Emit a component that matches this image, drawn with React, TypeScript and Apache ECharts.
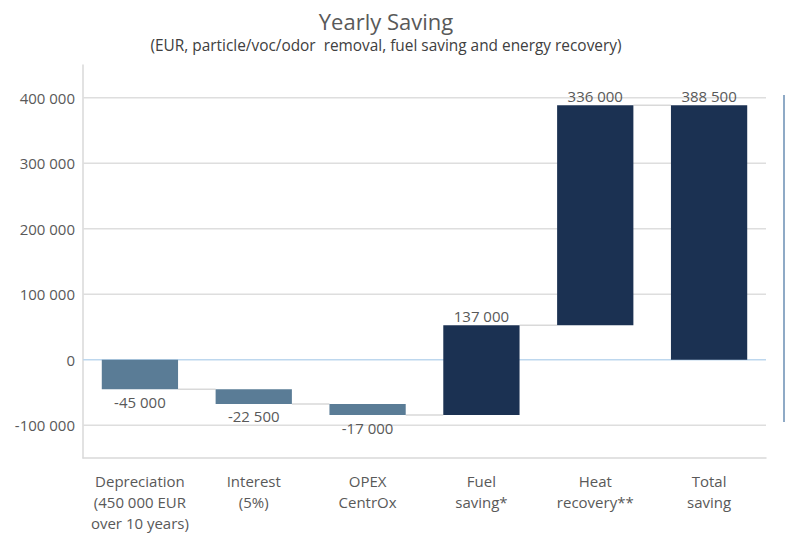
import React, { useEffect, useRef } from 'react';
import * as echarts from 'echarts';

const categories = [
  'Depreciation\n(450 000 EUR\nover 10 years)',
  'Interest\n(5%)',
  'OPEX\nCentrOx',
  'Fuel\nsaving*',
  'Heat\nrecovery**',
  'Total\nsaving',
];
const deltas = [-45000, -22500, -17000, 137000, 336000];
const totalValue = 388500;
const yTicks = [-100000, 0, 100000, 200000, 300000, 400000];
const yMin = -150000;
const yMax = 450000;

const NEG = '#5A7C96';
const POS = '#1B3152';
const FONT = '"Open Sans", sans-serif';
const BAR_FRAC = 0.67;

const fmt = (v: number) => {
  const s = Math.abs(v).toString().replace(/\B(?=(\d{3})+(?!\d))/g, ' ');
  return (v < 0 ? '-' : '') + s;
};

export default function App() {
  const ref = useRef<HTMLDivElement>(null);
  useEffect(() => {
    document.body.style.margin = '0';
    if (!ref.current) return;
    const chart = echarts.init(ref.current, null, { renderer: 'svg' });

    const barData: number[][] = [];
    let running = 0;
    deltas.forEach((d, i) => {
      barData.push([i, running, running + d, d]);
      running += d;
    });
    barData.push([deltas.length, 0, totalValue, totalValue]);
    const connData = barData.slice(0, deltas.length).map((b) => [b[0], b[2]]);
    const gridData = yTicks.map((v) => [0, v]);

    chart.setOption({
      animation: false,
      title: {
        text: 'Yearly Saving',
        subtext: '(EUR, particle/voc/odor  removal, fuel saving and energy recovery)',
        left: 381,
        textAlign: 'center',
        top: 5,
        itemGap: 6,
        textStyle: { fontFamily: FONT, fontSize: 22, fontWeight: 'normal', color: '#595959' },
        subtextStyle: { fontFamily: FONT, fontSize: 15.4, color: '#404040' },
      },
      grid: { left: 83, right: 23, top: 65, bottom: 72, containLabel: false },
      xAxis: {
        type: 'category',
        data: categories,
        axisLine: { onZero: false, lineStyle: { color: '#d9d9d9', width: 1.5 } },
        axisTick: { show: false },
        axisLabel: {
          interval: 0,
          fontFamily: FONT,
          fontSize: 15,
          lineHeight: 21,
          color: '#595959',
          margin: 12,
        },
      },
      yAxis: {
        type: 'value',
        min: yMin,
        max: yMax,
        interval: 50000,
        axisLine: { show: true, lineStyle: { color: '#d9d9d9', width: 1.5 } },
        axisTick: { show: false },
        splitLine: { show: false },
        axisLabel: {
          fontFamily: FONT,
          fontSize: 15,
          color: '#595959',
          margin: 8,
          formatter: (v: number) => (yTicks.indexOf(v) >= 0 ? fmt(v) : ''),
        },
      },
      graphic: [
        {
          type: 'line',
          shape: { x1: 784, y1: 95, x2: 784, y2: 422 },
          style: { stroke: '#8FAAC6', lineWidth: 2 },
        },
      ],
      series: [
        {
          type: 'custom',
          z: 1,
          silent: true,
          data: gridData,
          encode: { x: 0, y: 1 },
          renderItem: (params: any, api: any) => {
            const v = api.value(1);
            const p = api.coord([0, v]);
            const cs = params.coordSys;
            return {
              type: 'line',
              shape: { x1: cs.x, y1: p[1], x2: cs.x + cs.width, y2: p[1] },
              style: { stroke: v === 0 ? '#BDD7EE' : '#DEDEDE', lineWidth: 1.5 },
            };
          },
        },
        {
          type: 'custom',
          z: 2,
          silent: true,
          data: connData,
          encode: { x: 0, y: 1 },
          renderItem: (params: any, api: any) => {
            const p = api.coord([api.value(0), api.value(1)]);
            const w = api.size([1, 0])[0];
            const bw = w * BAR_FRAC;
            return {
              type: 'line',
              shape: { x1: p[0] + bw / 2, y1: p[1], x2: p[0] + w - bw / 2, y2: p[1] },
              style: { stroke: '#D9D9D9', lineWidth: 1.5 },
            };
          },
        },
        {
          type: 'custom',
          z: 3,
          data: barData,
          encode: { x: 0, y: [1, 2] },
          renderItem: (params: any, api: any) => {
            const i = api.value(0);
            const start = api.value(1);
            const end = api.value(2);
            const delta = api.value(3);
            const pS = api.coord([i, start]);
            const pE = api.coord([i, end]);
            const bw = api.size([1, 0])[0] * BAR_FRAC;
            const top = Math.min(pS[1], pE[1]);
            const h = Math.abs(pS[1] - pE[1]);
            const neg = delta < 0;
            return {
              type: 'group',
              children: [
                {
                  type: 'rect',
                  shape: { x: pS[0] - bw / 2, y: top, width: bw, height: h },
                  style: { fill: neg ? NEG : POS },
                },
                {
                  type: 'text',
                  style: {
                    text: fmt(delta),
                    x: pS[0],
                    y: neg ? top + h + 5 : top - 2,
                    align: 'center',
                    verticalAlign: neg ? 'top' : 'bottom',
                    fill: '#595959',
                    fontSize: 15,
                    fontFamily: FONT,
                  },
                },
              ],
            };
          },
        },
      ],
    });
    return () => chart.dispose();
  }, []);
  return <div ref={ref} style={{ width: 789, height: 533 }} />;
}
